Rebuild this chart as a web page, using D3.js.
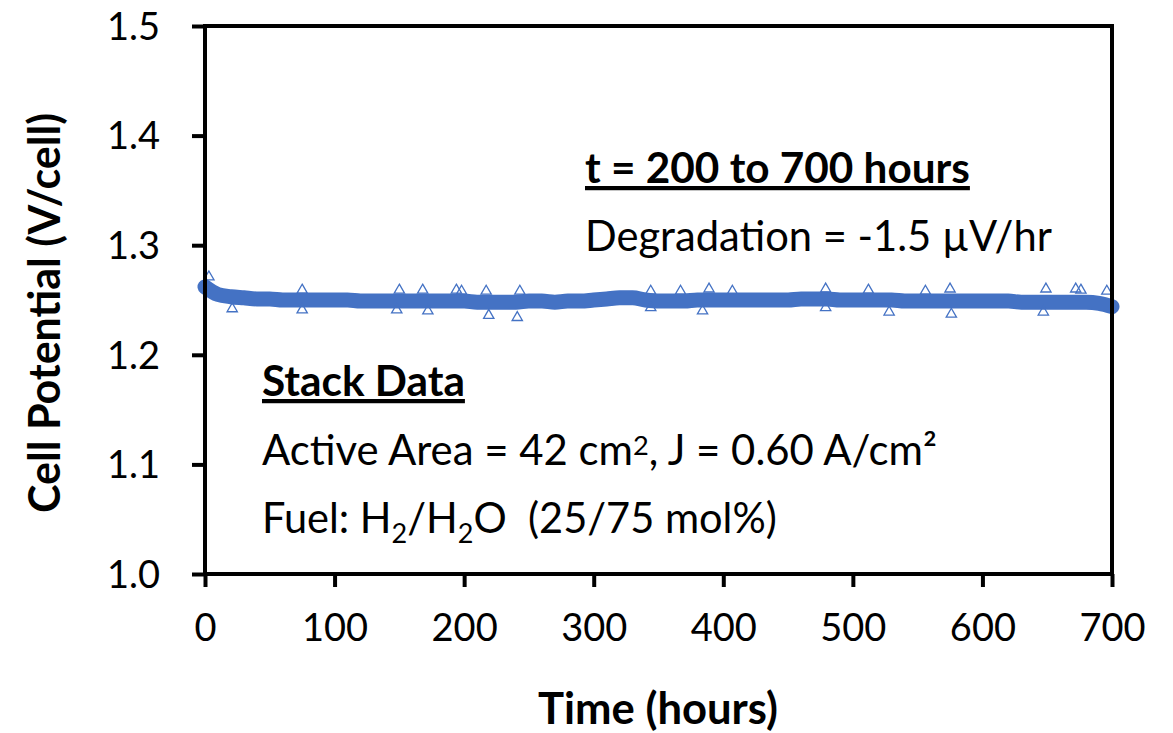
<!doctype html>
<html>
  <style>
    body {
      margin: 0;
      background-color: #fff;
    }
    text {
      font-family: Lato, "Open Sans", sans-serif;
      fill: #000;
    }
  </style>
  <body>
  <script src="https://cdn.jsdelivr.net/npm/d3@7"></script>
  <script>
    // stack test: cell potential vs time
    var times = [0, 10, 20, 30, 40, 50, 60, 70, 80, 90, 100, 110, 120, 130, 140, 150, 160, 170, 180, 190,
                 200, 210, 220, 230, 240, 250, 260, 270, 280, 290, 300, 310, 320, 330, 340, 350, 360, 370, 380, 390,
                 400, 410, 420, 430, 440, 450, 460, 470, 480, 490, 500, 510, 520, 530, 540, 550, 560, 570, 580, 590,
                 600, 610, 620, 630, 640, 650, 660, 670, 680, 690, 700];
    var potential = [1.262, 1.255, 1.253, 1.252, 1.251, 1.251, 1.250, 1.250, 1.250, 1.250,
                     1.250, 1.250, 1.249, 1.249, 1.249, 1.249, 1.249, 1.249, 1.249, 1.249,
                     1.249, 1.248, 1.248, 1.248, 1.248, 1.249, 1.249, 1.248, 1.249, 1.249,
                     1.250, 1.251, 1.252, 1.252, 1.250, 1.249, 1.249, 1.249, 1.250, 1.250,
                     1.250, 1.250, 1.250, 1.250, 1.250, 1.250, 1.251, 1.251, 1.251, 1.250,
                     1.250, 1.250, 1.250, 1.250, 1.249, 1.249, 1.249, 1.249, 1.249, 1.249,
                     1.249, 1.249, 1.249, 1.248, 1.248, 1.248, 1.248, 1.248, 1.248, 1.247, 1.244];

    // scattered points that stick out of the band
    var outlierTimes = [3, 21, 75, 75, 150, 148, 168, 172, 194, 198, 217, 219, 243, 241, 344, 344, 367, 384, 389, 407,
                        479, 479, 512, 528, 556, 575, 576, 649, 647, 672, 676, 696];
    var outlierValues = [1.271, 1.242, 1.259, 1.241, 1.259, 1.241, 1.259, 1.240, 1.259, 1.258, 1.258, 1.236, 1.258, 1.234,
                         1.258, 1.243, 1.258, 1.240, 1.260, 1.258, 1.260, 1.243, 1.259, 1.239, 1.258, 1.260, 1.237,
                         1.260, 1.239, 1.260, 1.259, 1.258];

    var xTicks = [0, 100, 200, 300, 400, 500, 600, 700];
    var yTicks = [1.0, 1.1, 1.2, 1.3, 1.4, 1.5];

    var width = 1173,
        height = 733;
    var blue = '#4472C4';

    var svg = d3.select('body').append('svg')
        .attr('width', width)
        .attr('height', height);

    var x = d3.scaleLinear().domain([0, 700]).range([205, 1112]);
    var y = d3.scaleLinear().domain([1.0, 1.5]).range([574, 26]);

    var data = times.map(function (t, i) { return {t: t, v: potential[i]}; });
    var outliers = outlierTimes.map(function (t, i) { return {t: t, v: outlierValues[i]}; });

    // scale a text's font so that it spans the wanted width (the page fonts are not Calibri)
    var fit = function (sel, w) {
      var cur = sel.node().getComputedTextLength();
      var fs = parseFloat(sel.style('font-size'));
      sel.style('font-size', (fs * w / cur) + 'px');
      return sel;
    };

    // data band
    var line = d3.line()
        .x(function (d) { return x(d.t); })
        .y(function (d) { return y(d.v); })
        .curve(d3.curveMonotoneX);

    svg.append('path')
        .datum(data)
        .attr('d', line)
        .attr('fill', 'none')
        .attr('stroke', blue)
        .attr('stroke-width', 15)
        .attr('stroke-linecap', 'round');

    var tri = d3.symbol().type(d3.symbolTriangle).size(46);
    svg.selectAll('.out')
        .data(outliers)
      .enter().append('path')
        .attr('class', 'out')
        .attr('d', tri)
        .attr('transform', function (d) { return 'translate(' + x(d.t) + ',' + y(d.v) + ')'; })
        .attr('fill', 'none')
        .attr('stroke', blue)
        .attr('stroke-width', 1.3);

    // axes
    var xAxis = d3.axisBottom(x).tickValues(xTicks).tickSize(13).tickSizeOuter(0).tickPadding(35);
    var yAxis = d3.axisLeft(y).tickValues(yTicks).tickSize(13).tickSizeOuter(0).tickPadding(32)
        .tickFormat(d3.format('.1f'));

    var gx = svg.append('g').attr('transform', 'translate(0,574)').call(xAxis);
    var gy = svg.append('g').attr('transform', 'translate(205,0)').call(yAxis);

    [gx, gy].forEach(function (g) {
      g.select('.domain').remove();
      g.selectAll('line').attr('stroke', '#000').attr('stroke-width', 4);
      g.selectAll('text').style('font-size', '38px').attr('fill', '#000');
    });
    gx.selectAll('text').attr('dy', '0.5em');
    gy.selectAll('text').attr('dy', '0.35em');

    // frame
    svg.append('rect')
        .attr('x', 205).attr('y', 26)
        .attr('width', 1112 - 205).attr('height', 574 - 26)
        .attr('fill', 'none')
        .attr('stroke', '#000')
        .attr('stroke-width', 4);

    // axis titles
    fit(svg.append('text')
        .attr('x', 658).attr('y', 724)
        .attr('text-anchor', 'middle')
        .style('font-size', '33px').style('font-weight', 'bold')
        .text('Time (hours)'), 240);

    fit(svg.append('text')
        .attr('transform', 'translate(60,313) rotate(-90)')
        .attr('text-anchor', 'middle')
        .style('font-size', '33px').style('font-weight', 'bold')
        .text('Cell Potential (V/cell)'), 400);

    // annotations
    fit(svg.append('text')
        .attr('x', 585).attr('y', 183)
        .style('font-size', '32px').style('font-weight', 'bold')
        .style('text-decoration', 'underline')
        .text('t = 200 to 700 hours'), 385);

    fit(svg.append('text')
        .attr('x', 585).attr('y', 251)
        .style('font-size', '32px')
        .text('Degradation = -1.5 \u00b5V/hr'), 467);

    fit(svg.append('text')
        .attr('x', 262).attr('y', 396)
        .style('font-size', '32px').style('font-weight', 'bold')
        .style('text-decoration', 'underline')
        .text('Stack Data'), 203);

    var t1 = svg.append('text')
        .attr('x', 262).attr('y', 465)
        .style('font-size', '32px');
    t1.append('tspan').text('Active Area = 42 cm');
    t1.append('tspan').attr('dy', '-0.38em').style('font-size', '0.65em').text('2');
    t1.append('tspan').attr('dy', '0.25em').text(', J = 0.60 A/cm\u00b2');
    fit(t1, 675);

    var t2 = svg.append('text')
        .attr('x', 262).attr('y', 533)
        .style('font-size', '32px');
    t2.append('tspan').text('Fuel: H');
    t2.append('tspan').attr('dy', '0.38em').style('font-size', '0.65em').text('2');
    t2.append('tspan').attr('dy', '-0.25em').text('/H');
    t2.append('tspan').attr('dy', '0.38em').style('font-size', '0.65em').text('2');
    t2.append('tspan').attr('dy', '-0.25em').text('O\u00a0\u00a0(25/75 mol%)');
    fit(t2, 515);
  </script>
  </body>
</html>
